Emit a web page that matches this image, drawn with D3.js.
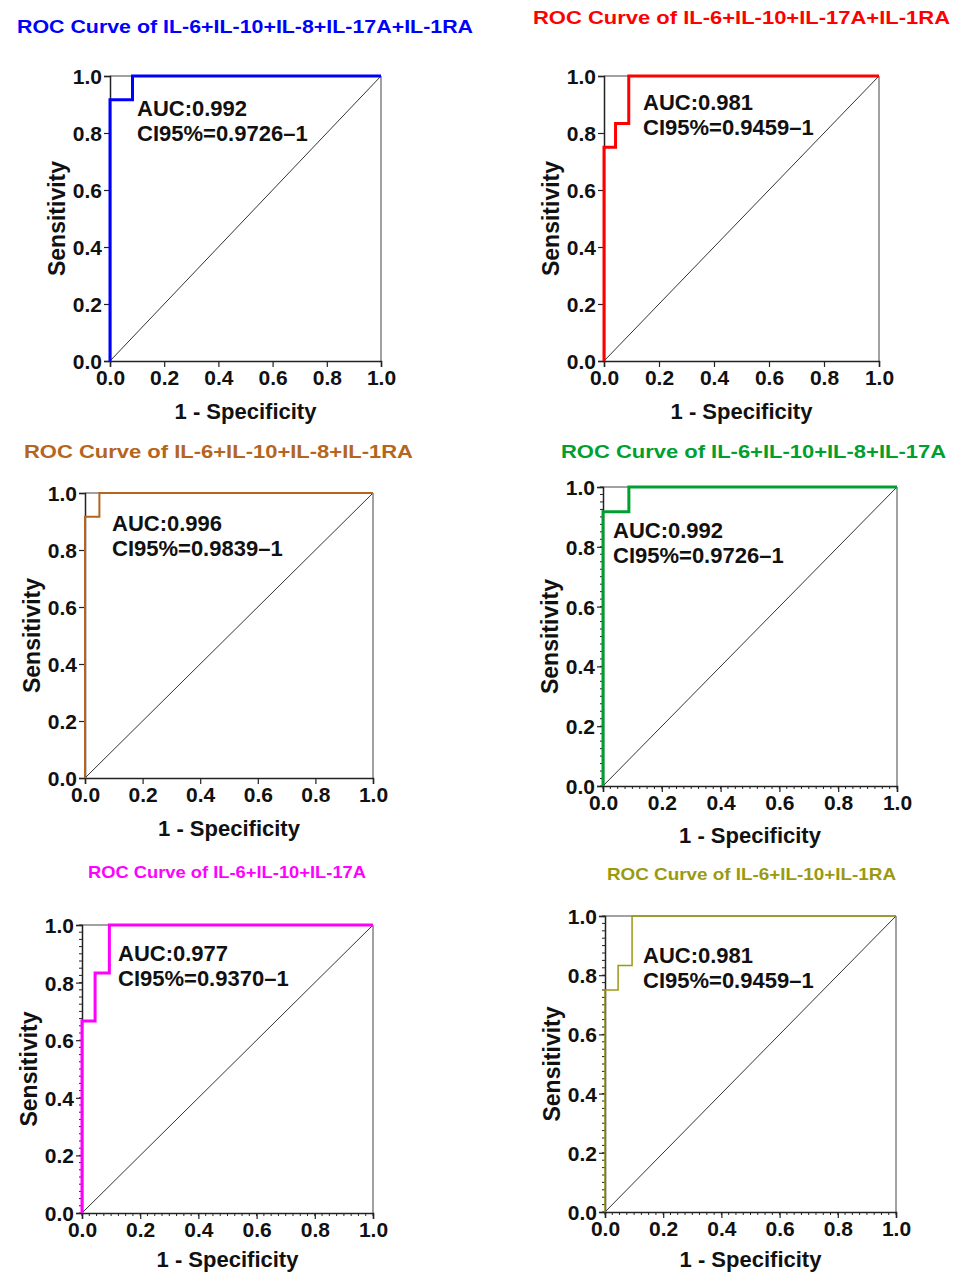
<!DOCTYPE html>
<html>
<head>
<meta charset="utf-8">
<script src="https://cdn.jsdelivr.net/npm/d3@7"></script>
<style>
body { margin: 0; background: #fff; }
text { font-family: "Liberation Sans", Arial, sans-serif; font-weight: bold; }
</style>
</head>
<body>
<div id="viz"></div>
<script>
// ---- data ----
let titles = [
    "ROC Curve of IL-6+IL-10+IL-8+IL-17A+IL-1RA",
    "ROC Curve of IL-6+IL-10+IL-17A+IL-1RA",
    "ROC Curve of IL-6+IL-10+IL-8+IL-1RA",
    "ROC Curve of IL-6+IL-10+IL-8+IL-17A",
    "ROC Curve of IL-6+IL-10+IL-17A",
    "ROC Curve of IL-6+IL-10+IL-1RA"
];
let colors = ["#0000ff", "#ff0000", "#b5651d", "#00a030", "#ff00ff", "#9a9a10"];
let auc_labels = ["AUC:0.992", "AUC:0.981", "AUC:0.996", "AUC:0.992", "AUC:0.977", "AUC:0.981"];
let ci_labels = ["CI95%=0.9726\u20131", "CI95%=0.9459\u20131", "CI95%=0.9839\u20131",
                 "CI95%=0.9726\u20131", "CI95%=0.9370\u20131", "CI95%=0.9459\u20131"];

// 1 - specificity (x) and sensitivity (y) of each curve
let fpr_1 = [0, 0, 0.083, 0.083, 1];
let tpr_1 = [0, 0.917, 0.917, 1, 1];
let fpr_2 = [0, 0, 0.042, 0.042, 0.09, 0.09, 1];
let tpr_2 = [0, 0.75, 0.75, 0.833, 0.833, 1, 1];
let fpr_3 = [0, 0, 0.05, 0.05, 1];
let tpr_3 = [0, 0.917, 0.917, 1, 1];
let fpr_4 = [0, 0, 0.088, 0.088, 1];
let tpr_4 = [0, 0.917, 0.917, 1, 1];
let fpr_5 = [0, 0, 0.045, 0.045, 0.094, 0.094, 1];
let tpr_5 = [0, 0.667, 0.667, 0.833, 0.833, 1, 1];
let fpr_6 = [0, 0, 0.045, 0.045, 0.093, 0.093, 1];
let tpr_6 = [0, 0.75, 0.75, 0.833, 0.833, 1, 1];
let fprs = [fpr_1, fpr_2, fpr_3, fpr_4, fpr_5, fpr_6];
let tprs = [tpr_1, tpr_2, tpr_3, tpr_4, tpr_5, tpr_6];

let tick_values = [0, 0.2, 0.4, 0.6, 0.8, 1.0];

// ---- layout ----
let panels = [
    {x0: 110, x1: 381, yt: 76,  yb: 361,  tx: 17,  ty: 33,  tw: 456, ts: 19, ax: 137, ay: 116, lw: 3,   minor: false, xt: 58},
    {x0: 604, x1: 879, yt: 76,  yb: 361,  tx: 533, ty: 24,  tw: 417, ts: 19, ax: 643, ay: 110, lw: 3,   minor: false, xt: 58},
    {x0: 85,  x1: 373, yt: 493, yb: 778,  tx: 24,  ty: 458, tw: 389, ts: 19, ax: 112, ay: 531, lw: 2,   minor: false, xt: 58},
    {x0: 603, x1: 897, yt: 487, yb: 786,  tx: 561, ty: 458, tw: 385, ts: 19, ax: 613, ay: 538, lw: 3,   minor: true,  xt: 57},
    {x0: 82,  x1: 373, yt: 925, yb: 1213, tx: 88,  ty: 878, tw: 278, ts: 17, ax: 118, ay: 961, lw: 3,   minor: true,  xt: 54},
    {x0: 605, x1: 896, yt: 916, yb: 1212, tx: 607, ty: 880, tw: 289, ts: 17, ax: 643, ay: 963, lw: 1.5, minor: true,  xt: 55}
];

let svg = d3.select("#viz").append("svg")
    .attr("width", 956)
    .attr("height", 1274);

function draw_panel(i){
    let p = panels[i];
    let xs = d3.scaleLinear().domain([0, 1]).range([p.x0, p.x1]);
    let ys = d3.scaleLinear().domain([0, 1]).range([p.yb, p.yt]);
    let g = svg.append("g");

    // title
    g.append("text")
        .attr("x", p.tx)
        .attr("y", p.ty)
        .attr("font-size", p.ts)
        .attr("textLength", p.tw)
        .attr("lengthAdjust", "spacingAndGlyphs")
        .attr("fill", colors[i])
        .text(titles[i]);

    // frame top / right
    g.append("path")
        .attr("d", "M" + xs(0) + "," + ys(1) + "H" + xs(1) + "V" + ys(0))
        .attr("fill", "none")
        .attr("stroke", "#444")
        .attr("stroke-width", 1);

    // minor ticks
    if(p.minor){
        let minor = d3.range(0, 1.0001, 0.025);
        g.selectAll(".mx").data(minor).enter().append("line")
            .attr("x1", d => xs(d)).attr("x2", d => xs(d))
            .attr("y1", ys(0)).attr("y2", ys(0) + 3)
            .attr("stroke", "#222").attr("stroke-width", 1);
        g.selectAll(".my").data(minor).enter().append("line")
            .attr("y1", d => ys(d)).attr("y2", d => ys(d))
            .attr("x1", xs(0)).attr("x2", xs(0) - 3)
            .attr("stroke", "#222").attr("stroke-width", 1);
    }

    // axes
    let xaxis = g.append("g")
        .attr("transform", "translate(0," + ys(0) + ")")
        .call(d3.axisBottom(xs).tickValues(tick_values).tickFormat(d3.format(".1f")).tickSize(6).tickPadding(5));
    let yaxis = g.append("g")
        .attr("transform", "translate(" + xs(0) + ",0)")
        .call(d3.axisLeft(ys).tickValues(tick_values).tickFormat(d3.format(".1f")).tickSize(6).tickPadding(2));
    [xaxis, yaxis].forEach(a => {
        a.select(".domain").attr("stroke", "#222").attr("stroke-width", 1.5);
        a.selectAll(".tick line").attr("stroke", "#222").attr("stroke-width", 1.2);
        a.selectAll(".tick text")
            .attr("font-family", "Liberation Sans, Arial, sans-serif")
            .attr("font-weight", "bold")
            .attr("font-size", 21)
            .attr("fill", "#111");
    });
    xaxis.selectAll(".tick text").attr("dy", "0.62em");
    yaxis.selectAll(".tick text").attr("dy", "0.36em");

    // axis titles
    g.append("text")
        .attr("x", (xs(0) + xs(1)) / 2)
        .attr("y", ys(0) + p.xt)
        .attr("text-anchor", "middle")
        .attr("font-size", 22)
        .attr("fill", "#111")
        .text("1 - Specificity");
    g.append("text")
        .attr("transform", "translate(" + (xs(0) - 45) + "," + ((ys(0) + ys(1)) / 2) + ") rotate(-90)")
        .attr("text-anchor", "middle")
        .attr("font-size", 23)
        .attr("fill", "#111")
        .text("Sensitivity");

    // reference diagonal
    g.append("line")
        .attr("x1", xs(0)).attr("y1", ys(0))
        .attr("x2", xs(1)).attr("y2", ys(1))
        .attr("stroke", "#333")
        .attr("stroke-width", 1);

    // ROC curve
    let pts = fprs[i].map((f, k) => [f, tprs[i][k]]);
    let line = d3.line().x(d => xs(d[0])).y(d => ys(d[1]));
    g.append("path")
        .attr("d", line(pts))
        .attr("fill", "none")
        .attr("stroke", colors[i])
        .attr("stroke-width", p.lw);

    // AUC text
    g.append("text")
        .attr("x", p.ax).attr("y", p.ay)
        .attr("font-size", 22)
        .attr("fill", "#111")
        .text(auc_labels[i]);
    g.append("text")
        .attr("x", p.ax).attr("y", p.ay + 25)
        .attr("font-size", 22)
        .attr("fill", "#111")
        .text(ci_labels[i]);
}

for(let i = 0; i < panels.length; i++){
    draw_panel(i);
}
</script>
</body>
</html>
